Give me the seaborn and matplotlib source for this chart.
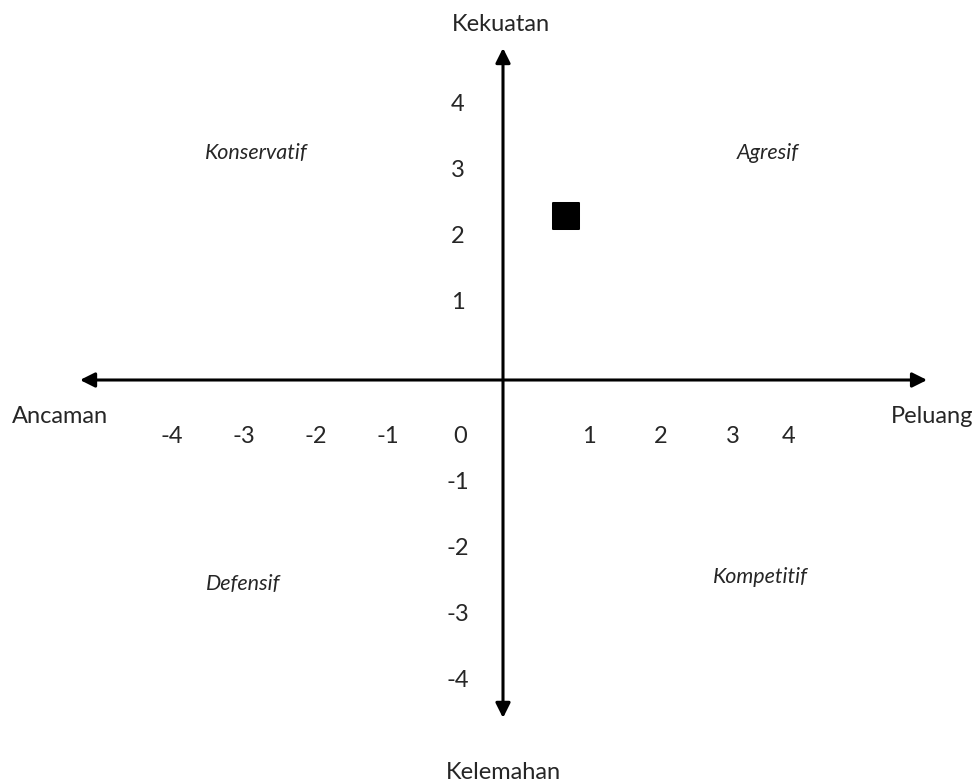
import matplotlib
matplotlib.use('Agg')
import matplotlib.pyplot as plt
import seaborn as sns
import pandas as pd

# quadrant diagram values
x_labels = [-4, -3, -2, -1, 0, 1, 2, 3, 4]
y_labels = [4, 3, 2, 1, -1, -2, -3, -4]
score_x = [0.875]
score_y = [2.48]

axis_names = {'top': 'Kekuatan', 'bottom': 'Kelemahan', 'left': 'Ancaman', 'right': 'Peluang'}
quadrants = ['Konservatif', 'Agresif', 'Defensif', 'Kompetitif']

sns.set_style('white')
plt.rcParams['font.family'] = ['Lato', 'DejaVu Sans']

fig = plt.figure(figsize=(9.78, 7.82), dpi=100)
ax = fig.add_axes([0, 0, 1, 1])
ax.set_xlim(-503 / 72, 475 / 72)
ax.set_ylim(-402 / 66, 380 / 66)
ax.axis('off')

# axes with arrow heads
arrow = dict(arrowstyle='<|-|>', lw=2.2, color='black', mutation_scale=22, shrinkA=0, shrinkB=0)
ax.annotate('', xy=(5.89, 0), xytext=(-5.875, 0), arrowprops=arrow)
ax.annotate('', xy=(0, 5.03), xytext=(0, -5.12), arrowprops=arrow)

df = pd.DataFrame({'x': score_x, 'y': score_y})
sns.scatterplot(data=df, x='x', y='y', marker='s', s=330, color='black', edgecolor='black', ax=ax, zorder=3)

fs = 17
for v in x_labels:
    pos = v - 0.6 if v <= 0 else min(v + 0.19, 3.97)
    ax.text(pos, -0.85, str(v), ha='center', va='center', fontsize=fs)
for v in y_labels:
    pos = v + 0.17 if v > 0 else v - 0.56
    ax.text(-0.625, pos, str(v), ha='center', va='center', fontsize=fs)

ax.text(-0.03, 5.39, axis_names['top'], ha='center', va='center', fontsize=fs)
ax.text(0, -5.94, axis_names['bottom'], ha='center', va='center', fontsize=fs)
ax.text(-6.15, -0.55, axis_names['left'], ha='center', va='center', fontsize=fs)
ax.text(5.96, -0.55, axis_names['right'], ha='center', va='center', fontsize=fs)

q_pos = [(-3.43, 3.44), (3.68, 3.44), (-3.61, -3.09), (3.58, -2.98)]
for name, (qx, qy) in zip(quadrants, q_pos):
    ax.text(qx, qy, name, ha='center', va='center', fontsize=15.5, style='italic')

fig.savefig('out.png', dpi=100)
